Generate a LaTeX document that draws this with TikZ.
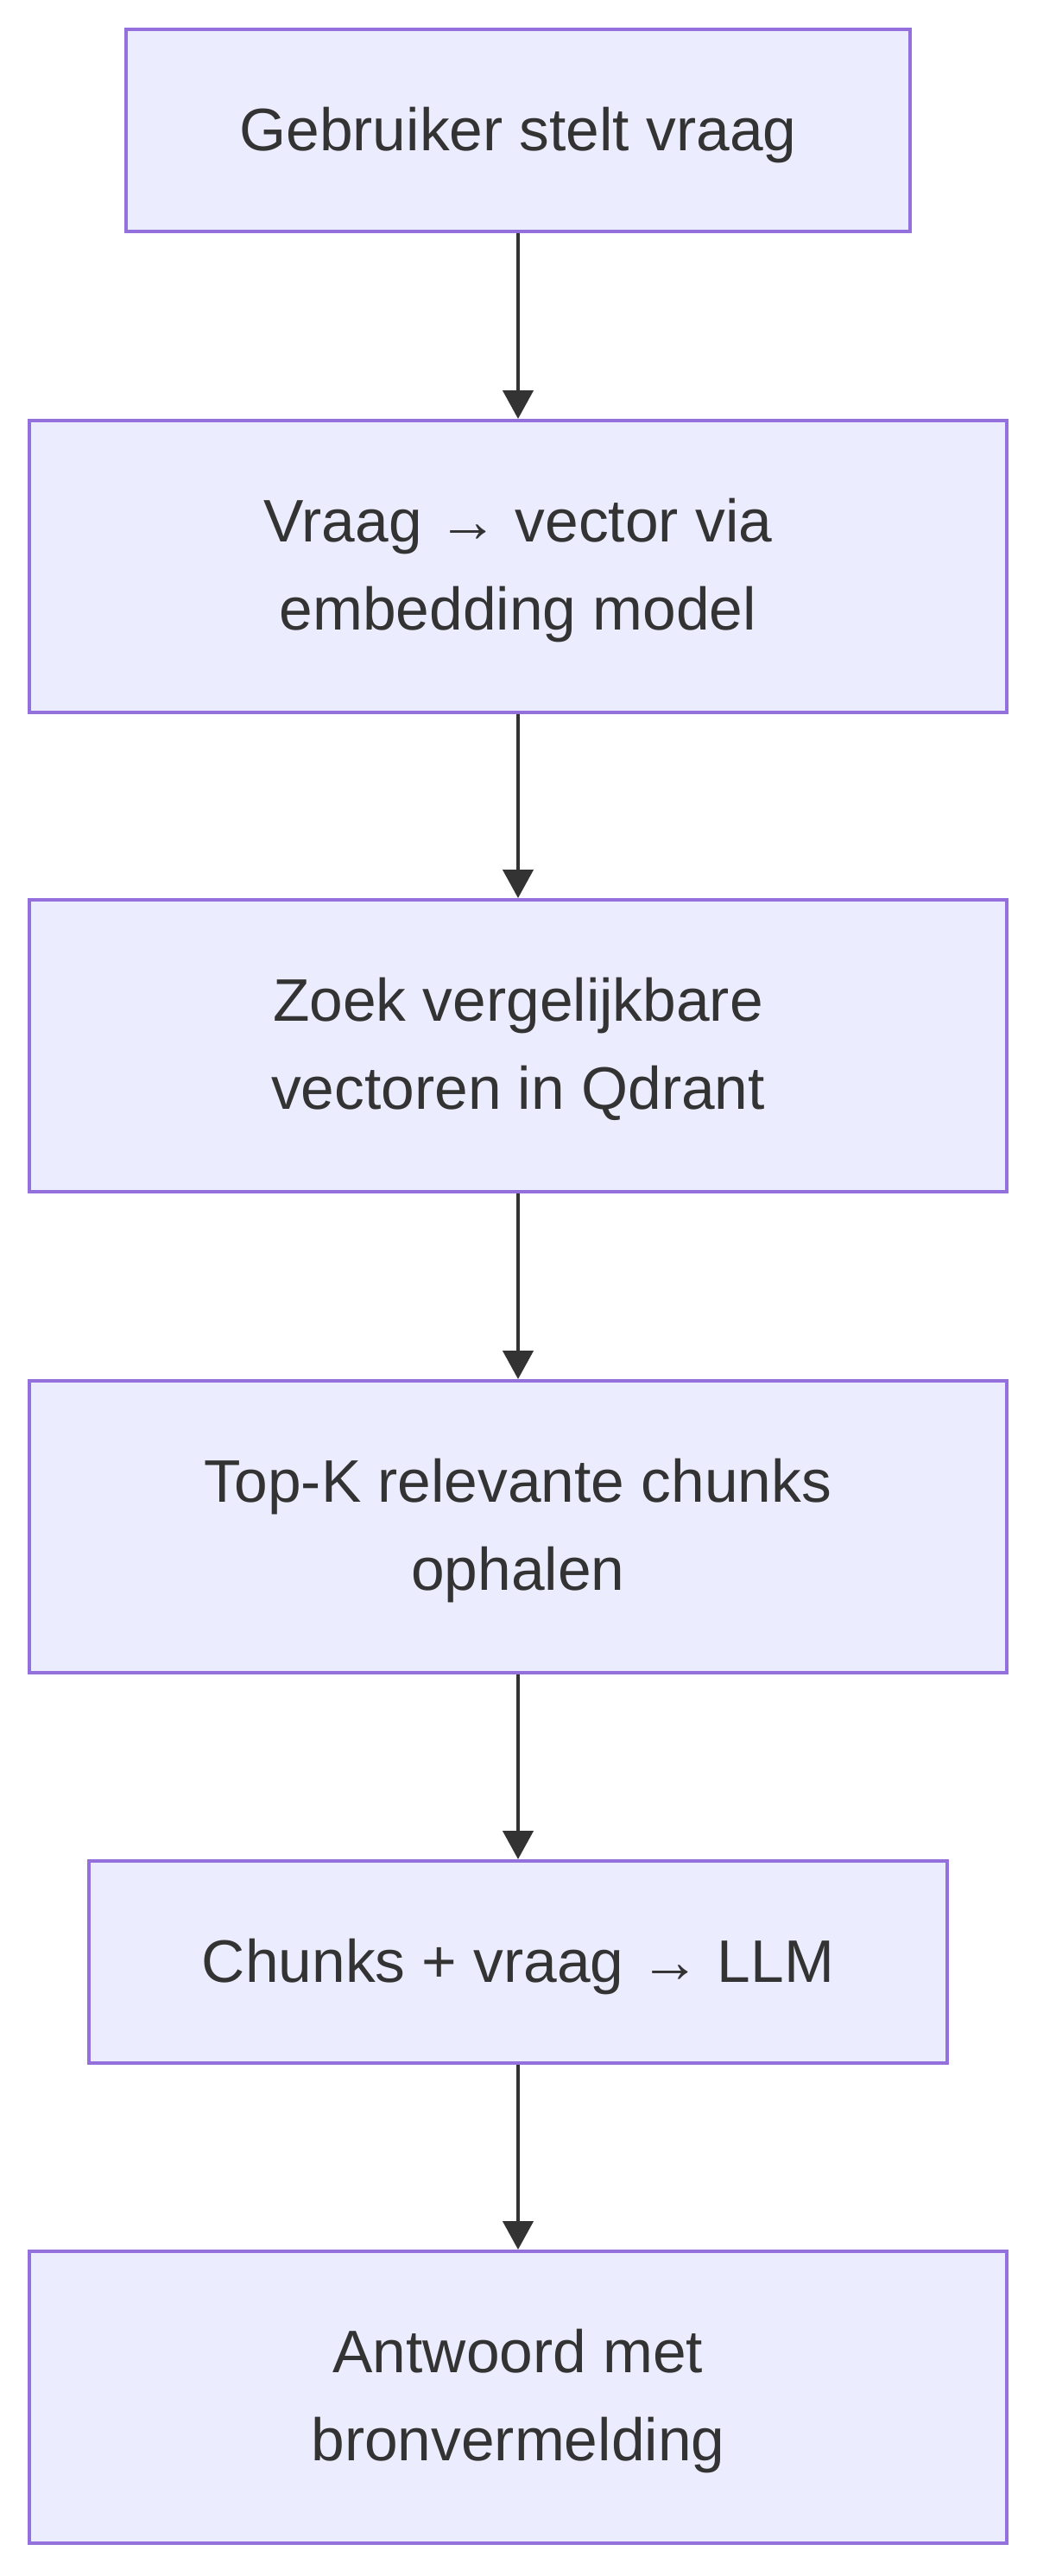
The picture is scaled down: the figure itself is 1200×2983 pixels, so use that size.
\documentclass[tikz,border=0pt]{standalone}
\usepackage{fontspec}
\setmainfont{Liberation Sans}
\usepackage{xcolor}
\definecolor{FlowFill}{HTML}{ECECFF}
\definecolor{FlowEdge}{HTML}{9370DB}
\definecolor{FlowInk} {HTML}{333333}
\usetikzlibrary{arrows.meta}
\newcommand{\flowtop}[1]{\rule{0pt}{#1}}
\newcommand{\flowbot}{\rule[-16pt]{0pt}{0pt}}

\begin{document}
\begin{tikzpicture}[x=1pt,y=-1pt,
  stepbox/.style={draw=FlowEdge,fill=FlowFill,line width=4pt,
    text=FlowInk,align=center,inner sep=0pt,minimum width=1132pt,
    minimum height=338pt,font=\fontsize{69.5}{102}\selectfont},
  shortbox/.style={stepbox,minimum height=234pt},
  flowarrow/.style={draw=FlowInk,line width=4.5pt,
    -{Triangle[width=35pt,length=33pt]}}]
  \useasboundingbox[fill=white] (0,0) rectangle (1200,2983);
  % Question
  \node[shortbox,minimum width=908pt] (ask) at (600,151)
    {\flowtop{62pt}Gebruiker stelt vraag\flowbot};
  % Embedding
  \node[stepbox] (embed) at (600,656)
    {\flowtop{60pt}Vraag → vector via\\embedding model\flowbot};
  % Search
  \node[stepbox] (search) at (600,1211)
    {\flowtop{60pt}Zoek vergelijkbare\\vectoren in Qdrant\flowbot};
  % Retrieve
  \node[stepbox] (topk) at (600,1768)
    {\flowtop{60pt}Top-K relevante chunks\\ophalen\flowbot};
  % LLM
  \node[shortbox,minimum width=994pt] (llm) at (600,2272)
    {\flowtop{62pt}Chunks + vraag → LLM\flowbot};
  % Answer
  \node[stepbox] (answer) at (600,2776)
    {\flowtop{60pt}Antwoord met\\bronvermelding\flowbot};
  % Arrows
  \draw[flowarrow] (ask) -- (embed);
  \draw[flowarrow] (embed) -- (search);
  \draw[flowarrow] (search) -- (topk);
  \draw[flowarrow] (topk) -- (llm);
  \draw[flowarrow] (llm) -- (answer);
\end{tikzpicture}
\end{document}
